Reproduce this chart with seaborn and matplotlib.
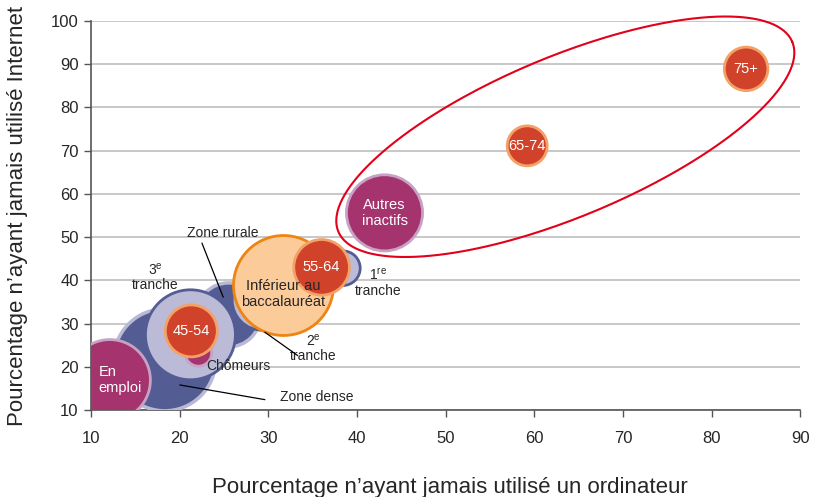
import matplotlib
matplotlib.use('Agg')
import matplotlib.pyplot as plt
import seaborn as sns
import pandas as pd
import numpy as np

# Données
groupes = ['Zone dense', 'Zone rurale',
           '3e tranche', '2e tranche', '1re tranche',
           'En emploi', 'Autres inactifs', 'Chômeurs',
           'Inférieur au baccalauréat',
           '45-54', '55-64', '65-74', '75+']
familles = ['zone', 'zone',
            'revenu', 'revenu', 'revenu',
            'situation', 'situation', 'situation',
            'diplome',
            'age', 'age', 'age', 'age']
pct_ordinateur = [18.3, 25.5, 21.2, 29.3, 38.4, 12.1, 43.1, 22.1, 31.7, 21.3, 36.0, 59.2, 83.9]
pct_internet = [21.6, 32.0, 27.4, 35.4, 42.8, 16.9, 55.6, 23.2, 38.9, 28.3, 43.0, 71.1, 88.9]
poids = [104, 41, 81, 36, 12, 66, 58, 7, 100, 27, 31, 16, 19]

df = pd.DataFrame({'groupe': groupes, 'famille': familles,
                   'x': pct_ordinateur, 'y': pct_internet, 'poids': poids})

styles = {
    'zone': ('#545C94', '#B9B9D6', 2.5),
    'revenu': ('#BBBBD7', '#545C94', 2.0),
    'situation': ('#A5336D', '#C7A2C4', 2.0),
    'diplome': ('#FBCB9A', '#EE8411', 2.0),
    'age': ('#D0432A', '#F3A167', 2.0),
}

sns.set_style('white')
plt.rcParams['font.family'] = ['Liberation Sans', 'DejaVu Sans']
plt.rcParams['mathtext.default'] = 'regular'

fig = plt.figure(figsize=(8.14, 4.97), dpi=100)
ax = fig.add_axes([0.112, 0.175, 0.871, 0.783])
ax.set_xlim(10, 90)
ax.set_ylim(10, 100)

for fam in ['zone', 'revenu', 'situation', 'diplome', 'age']:
    sub = df[df['famille'] == fam].sort_values('poids', ascending=False)
    fill, edge, lw = styles[fam]
    sns.scatterplot(data=sub, x='x', y='y', ax=ax, color=fill,
                    edgecolor=edge, linewidth=lw, s=sub['poids'] * 51.8,
                    legend=False, zorder=3)

# étiquettes dans les bulles
blanc = dict(color='white', ha='center', va='center', fontsize=10.5, zorder=5,
             linespacing=1.15)
ax.text(pct_ordinateur[6], pct_internet[6], 'Autres\ninactifs', **blanc)
ax.text(10.8, 16.9, 'En\nemploi', **{**blanc, 'ha': 'left'})
for i in [9, 10, 11, 12]:
    ax.text(pct_ordinateur[i], pct_internet[i], groupes[i], **blanc)
ax.text(pct_ordinateur[8], pct_internet[8] - 2.1, 'Inférieur au\nbaccalauréat',
        ha='center', va='center', fontsize=10.5, zorder=5, linespacing=1.15)

# étiquettes externes
ext = dict(ha='center', va='center', fontsize=10, zorder=5, linespacing=1.1)
ax.text(24.8, 51.0, 'Zone rurale', **ext)
ax.plot([22.5, 24.9], [48.6, 36.1], color='black', lw=0.9, zorder=5)
ax.text(17.2, 40.8, '3$^{e}$\ntranche', **ext)
ax.text(42.4, 39.4, '1$^{re}$\ntranche', **ext)
ax.text(35.1, 24.4, '2$^{e}$\ntranche', **ext)
ax.plot([29.6, 33.3], [28.0, 22.6], color='black', lw=0.9, zorder=5)
ax.text(26.6, 20.2, 'Chômeurs', **ext)
ax.text(35.4, 13.0, 'Zone dense', **ext)
ax.plot([20.0, 29.6], [15.8, 12.4], color='black', lw=0.9, zorder=5)

# ellipse rouge (tracée en pixels pour garder sa forme)
t = np.linspace(0, 2 * np.pi, 300)
cx, cy = ax.transData.transform((63.5, 73.2))
a, b, ang = 246, 80, np.deg2rad(22.7)
px = cx + a * np.cos(t) * np.cos(ang) - b * np.sin(t) * np.sin(ang)
py = cy + a * np.cos(t) * np.sin(ang) + b * np.sin(t) * np.cos(ang)
pts = ax.transData.inverted().transform(np.column_stack([px, py]))
ax.plot(pts[:, 0], pts[:, 1], color='#E2001A', lw=1.5, zorder=6, clip_on=False)

# axes
ax.set_xticks(range(10, 91, 10))
ax.set_yticks(range(10, 101, 10))
ax.yaxis.grid(True, color='#BFBFBF', lw=1.2)
ax.set_axisbelow(True)
for s in ['top', 'right']:
    ax.spines[s].set_visible(False)
for s in ['left', 'bottom']:
    ax.spines[s].set_color('#555555')
    ax.spines[s].set_linewidth(1.2)
ax.tick_params(axis='both', which='both', direction='out', length=5,
               width=1, color='#555555', labelsize=12, pad=4)
ax.tick_params(axis='x', pad=10)
ax.xaxis.set_tick_params(bottom=True)
ax.yaxis.set_tick_params(left=True)
ax.set_xlabel('Pourcentage n’ayant jamais utilisé un ordinateur', fontsize=16)
ax.set_ylabel('Pourcentage n’ayant jamais utilisé Internet', fontsize=16)
ax.xaxis.set_label_coords(0.506, -0.172)
ax.yaxis.set_label_coords(-0.089, 0.5)

fig.savefig('out.png', dpi=100)
